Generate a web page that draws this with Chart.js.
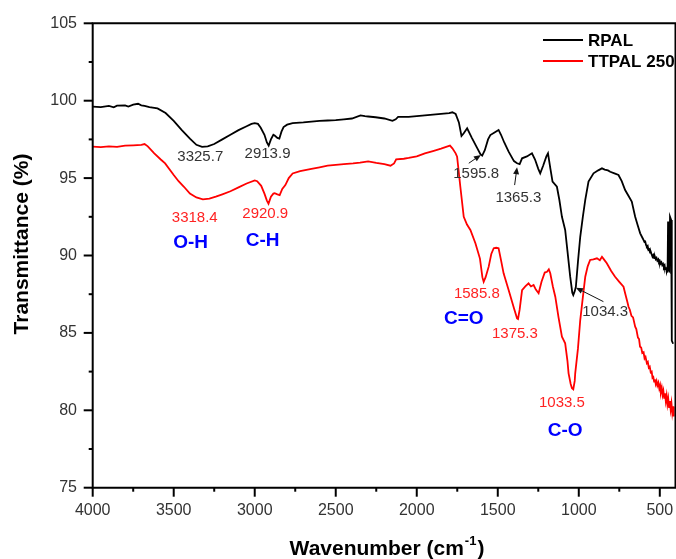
<!DOCTYPE html>
<html>
<head>
<meta charset="utf-8">
<script src="https://cdn.jsdelivr.net/npm/chart.js@4"></script>
<style>
  html, body { margin: 0; padding: 0; background: #fff; }
  #wrap { width: 676px; height: 559px; position: relative; }
</style>
</head>
<body>
<div id="wrap"><canvas id="ftirChart" width="676" height="559"></canvas></div>
<script>
// FTIR spectra: wavenumber (cm-1) and transmittance (%)
const rpalWave = [
  4000, 3950, 3900, 3870, 3850, 3800, 3780, 3750, 3720, 3700, 3680, 3650, 3600, 3550, 3500, 3450, 3400, 3360, 3325, 3290,
  3250, 3200, 3150, 3100, 3050, 3020, 3000, 2980, 2963, 2940, 2925, 2914, 2900, 2885, 2877, 2860, 2848, 2835, 2822, 2800,
  2766, 2700, 2650, 2600, 2550, 2500, 2450, 2400, 2347, 2320, 2300, 2254, 2200, 2150, 2130, 2115, 2050, 2000, 1950, 1900,
  1850, 1800, 1780, 1760, 1740, 1724, 1710, 1689, 1660, 1630, 1607, 1596, 1580, 1560, 1546, 1520, 1495, 1480, 1460, 1433,
  1400, 1381, 1365, 1350, 1320, 1289, 1270, 1250, 1238, 1220, 1200, 1190, 1175, 1162, 1135, 1120, 1104, 1084, 1070, 1053,
  1040, 1034, 1025, 1018, 1005, 991, 975, 960, 940, 909, 880, 857, 840, 820, 806, 780, 755, 735, 714, 690,
  673, 652, 635, 621, 605, 600, 595, 590, 585, 580, 575, 570, 565, 560, 555, 549, 545, 540, 535, 530,
  525, 520, 515, 509, 505, 500, 495, 490, 485, 480, 475, 470, 467, 462, 458, 455, 452, 449, 446, 440,
  437, 430, 426, 418
];
const rpalT = [
  99.62, 99.58, 99.66, 99.57, 99.68, 99.7, 99.62, 99.74, 99.8, 99.7, 99.66, 99.58, 99.5, 99.2, 98.7, 98.1, 97.55, 97.15, 97.02, 97.05,
  97.2, 97.5, 97.8, 98.1, 98.35, 98.5, 98.55, 98.5, 98.25, 97.8, 97.3, 97.1, 97.5, 97.8, 97.75, 97.6, 97.55, 98.0, 98.3, 98.45,
  98.55, 98.6, 98.65, 98.7, 98.72, 98.75, 98.8, 98.85, 99.05, 99.0, 98.98, 98.93, 98.85, 98.7, 98.8, 98.95, 98.95, 99.0, 99.05, 99.1,
  99.15, 99.2, 99.25, 99.15, 98.6, 97.72, 97.9, 98.22, 97.6, 97.0, 96.55, 96.45, 96.8, 97.5, 97.78, 97.95, 98.11, 97.8, 97.3, 96.71,
  96.1, 95.96, 95.9, 96.28, 96.4, 96.6, 96.2, 95.6, 95.31, 95.8, 96.4, 96.6, 95.6, 94.77, 94.44, 93.6, 92.5, 91.65, 90.3, 88.63,
  87.6, 87.45, 87.7, 87.98, 89.6, 91.21, 92.5, 93.59, 94.77, 95.31, 95.5, 95.63, 95.55, 95.5, 95.41, 95.3, 95.2, 94.8, 94.23, 93.8,
  93.48, 92.5, 91.9, 91.43, 91.1, 91.0, 90.88, 90.9, 90.68, 90.57, 90.62, 90.36, 90.4, 90.18, 90.22, 90.03, 89.92, 90.02, 89.84, 89.92,
  89.76, 89.84, 89.66, 89.75, 89.58, 89.65, 89.48, 89.56, 89.38, 89.46, 89.25, 89.35, 89.12, 89.24, 88.98, 89.14, 88.9, 92.2, 89.1, 89.0,
  92.5, 92.3, 84.5, 84.3
];

const ttpalWave = [
  4000, 3950, 3900, 3850, 3800, 3750, 3700, 3680, 3660, 3620, 3580, 3553, 3500, 3470, 3437, 3400, 3360, 3320, 3280, 3240,
  3200, 3150, 3100, 3050, 3000, 2985, 2960, 2940, 2925, 2915, 2900, 2885, 2877, 2860, 2846, 2830, 2811, 2790, 2766, 2720,
  2650, 2600, 2550, 2500, 2450, 2393, 2350, 2300, 2250, 2200, 2162, 2140, 2127, 2080, 2050, 2000, 1950, 1900, 1850, 1814,
  1795, 1780, 1760, 1751, 1731, 1710, 1690, 1669, 1638, 1610, 1595, 1587, 1575, 1556, 1540, 1525, 1510, 1495, 1480, 1464,
  1433, 1400, 1381, 1375, 1365, 1350, 1330, 1310, 1295, 1279, 1265, 1248, 1230, 1210, 1196, 1185, 1176, 1160, 1145, 1125,
  1104, 1084, 1070, 1063, 1050, 1042, 1034, 1025, 1022, 1005, 991, 975, 960, 945, 930, 910, 888, 870, 857, 845,
  827, 800, 776, 750, 724, 710, 700, 693, 685, 675, 665, 652, 645, 635, 628, 622, 615, 608, 600, 594,
  588, 580, 574, 568, 562, 556, 550, 545, 540, 535, 530, 525, 520, 515, 509, 503, 498, 493, 488, 483,
  478, 473, 468, 463, 458, 453, 448, 443, 438, 433, 428, 423, 418, 414
];
const ttpalT = [
  97.03, 97.0, 97.05, 97.02, 97.1, 97.12, 97.15, 97.2, 97.05, 96.6, 96.2, 95.95, 95.2, 94.8, 94.44, 94.0, 93.75, 93.63, 93.68, 93.8,
  93.95, 94.15, 94.4, 94.65, 94.85, 94.8, 94.5, 94.0, 93.55, 93.35, 93.8, 94.0, 94.02, 93.95, 93.9, 94.3, 94.55, 95.0, 95.3, 95.45,
  95.6, 95.7, 95.8, 95.85, 95.9, 95.95, 96.0, 96.08, 95.98, 95.9, 95.8, 95.95, 96.21, 96.25, 96.3, 96.4, 96.6, 96.75, 96.9, 97.03,
  97.1, 96.92, 96.6, 96.38, 94.44, 92.5, 92.0, 91.65, 90.79, 89.8, 88.6, 88.3, 88.6, 89.28, 90.1, 90.47, 90.5, 90.47, 89.7, 88.85,
  87.77, 86.6, 85.94, 85.9, 86.5, 87.77, 88.0, 88.2, 88.0, 88.09, 87.8, 87.56, 88.3, 88.9, 88.95, 89.1, 88.85, 88.0, 87.34, 86.0,
  84.75, 84.33, 83.2, 82.39, 81.7, 81.42, 81.35, 81.9, 82.39, 84.0, 85.83, 87.3, 88.63, 89.3, 89.71, 89.75, 89.82, 89.7, 89.92, 89.75,
  89.5, 89.0, 88.63, 88.3, 87.98, 87.4, 87.0, 86.69, 86.5, 86.1, 86.0, 85.4, 85.25, 84.7, 84.6, 84.11, 84.05, 83.7, 83.75, 83.35,
  83.45, 83.04, 83.12, 82.75, 82.82, 82.45, 82.5, 82.1, 82.15, 81.85, 82.0, 81.7, 81.88, 81.6, 81.78, 81.4, 81.62, 81.2, 81.45, 81.0,
  81.25, 80.8, 81.1, 80.6, 80.95, 80.4, 80.75, 80.2, 80.6, 80.05, 80.45, 79.85, 80.25, 79.6
];

const xTicks = [4000, 3500, 3000, 2500, 2000, 1500, 1000, 500];
const yTicks = [75, 80, 85, 90, 95, 100, 105];

// peak labels: [text, wavenumber, transmittance]
const rpalPeaks = [
  ["3325.7", 3336, 96.38],
  ["2913.9", 2921, 96.56],
  ["1595.8", 1633, 95.27],
  ["1365.3", 1373, 93.75],
  ["1034.3", 837, 86.38]
];
const ttpalPeaks = [
  ["3318.4", 3370, 92.45],
  ["2920.9", 2935, 92.7],
  ["1585.8", 1629, 87.51],
  ["1375.3", 1394, 84.97],
  ["1033.5", 1104, 80.5]
];
const groupLabels = [
  ["O-H", 3396, 90.8],
  ["C-H", 2951, 90.94],
  ["C=O", 1710, 85.93],
  ["C-O", 1084, 78.66]
];
// arrows from a label to its band: [fromWave, fromT, toWave, toT]
const peakArrows = [
  [1679, 95.96, 1604, 96.5],
  [1396, 94.55, 1381, 95.7],
  [848, 87.02, 1018, 87.92]
];

const FONT = "'Liberation Sans', Arial, sans-serif";

function toPoints(xs, ys) {
  return xs.map((x, i) => ({ x: x, y: ys[i] }));
}

function drawArrow(ctx, x1, y1, x2, y2) {
  const ang = Math.atan2(y2 - y1, x2 - x1);
  const len = 7, half = 3;
  ctx.beginPath();
  ctx.moveTo(x1, y1);
  ctx.lineTo(x2 - Math.cos(ang) * len * 0.8, y2 - Math.sin(ang) * len * 0.8);
  ctx.stroke();
  ctx.beginPath();
  ctx.moveTo(x2, y2);
  ctx.lineTo(x2 - Math.cos(ang) * len - Math.sin(ang) * half, y2 - Math.sin(ang) * len + Math.cos(ang) * half);
  ctx.lineTo(x2 - Math.cos(ang) * len + Math.sin(ang) * half, y2 - Math.sin(ang) * len - Math.cos(ang) * half);
  ctx.closePath();
  ctx.fill();
}

// axes frame, ticks, titles, legend and peak annotations
const ftirDecor = {
  id: "ftirDecor",
  afterDatasetsDraw(chart) {
    const ctx = chart.ctx;
    const area = chart.chartArea;
    const xs = chart.scales.x, ys = chart.scales.y;
    ctx.save();

    // frame
    ctx.strokeStyle = "#000";
    ctx.lineWidth = 2;
    ctx.beginPath();
    ctx.moveTo(area.left, area.top);
    ctx.lineTo(area.right - 0.5, area.top);
    ctx.lineTo(area.right - 0.5, area.bottom);
    ctx.lineTo(area.left, area.bottom);
    ctx.closePath();
    ctx.stroke();

    // x ticks (major every 500, minor every 250)
    for (let v = 4000; v >= 400; v -= 250) {
      const px = xs.getPixelForValue(v);
      const major = v % 500 === 0;
      ctx.beginPath();
      ctx.moveTo(px, area.bottom);
      ctx.lineTo(px, area.bottom + (major ? 9 : 4));
      ctx.stroke();
    }
    // y ticks (major every 5, minor every 2.5)
    for (let v = 75; v <= 105; v += 2.5) {
      const py = ys.getPixelForValue(v);
      const major = v % 5 === 0;
      ctx.beginPath();
      ctx.moveTo(area.left, py);
      ctx.lineTo(area.left - (major ? 9 : 4), py);
      ctx.stroke();
    }

    // tick labels
    ctx.fillStyle = "#333";
    ctx.font = "16px " + FONT;
    ctx.textAlign = "center";
    ctx.textBaseline = "middle";
    xTicks.forEach(v => ctx.fillText(String(v), xs.getPixelForValue(v), 511));
    ctx.textAlign = "right";
    yTicks.forEach(v => ctx.fillText(String(v), 77, ys.getPixelForValue(v)));

    // axis titles
    ctx.fillStyle = "#000";
    ctx.font = "bold 21px " + FONT;
    ctx.save();
    ctx.translate(22, 244);
    ctx.rotate(-Math.PI / 2);
    ctx.textAlign = "center";
    ctx.fillText("Transmittance (%)", 0, 0);
    ctx.restore();

    const t1 = "Wavenumber (cm", sup = "-1", t2 = ")";
    ctx.font = "bold 21px " + FONT;
    const w1 = ctx.measureText(t1).width, w3 = ctx.measureText(t2).width;
    ctx.font = "bold 13px " + FONT;
    const w2 = ctx.measureText(sup).width;
    const sx = 386 - (w1 + w2 + w3) / 2;
    ctx.textAlign = "left";
    ctx.font = "bold 21px " + FONT;
    ctx.fillText(t1, sx, 549);
    ctx.font = "bold 13px " + FONT;
    ctx.fillText(sup, sx + w1 + 1, 541);
    ctx.font = "bold 21px " + FONT;
    ctx.fillText(t2, sx + w1 + w2 + 2, 549);

    // legend
    const legend = [["RPAL", "#000", 40], ["TTPAL 250", "#ff0000", 61]];
    ctx.lineWidth = 2;
    ctx.font = "bold 17px " + FONT;
    legend.forEach(([name, col, y]) => {
      ctx.strokeStyle = col;
      ctx.beginPath();
      ctx.moveTo(543, y);
      ctx.lineTo(583, y);
      ctx.stroke();
      ctx.fillStyle = "#000";
      ctx.fillText(name, 588, y + 1);
    });

    // peak labels
    ctx.textAlign = "center";
    ctx.font = "15px " + FONT;
    ctx.fillStyle = "#333";
    rpalPeaks.forEach(([t, w, v]) => ctx.fillText(t, xs.getPixelForValue(w), ys.getPixelForValue(v)));
    ctx.fillStyle = "#f22";
    ttpalPeaks.forEach(([t, w, v]) => ctx.fillText(t, xs.getPixelForValue(w), ys.getPixelForValue(v)));
    ctx.font = "bold 19px " + FONT;
    ctx.fillStyle = "#0000ff";
    groupLabels.forEach(([t, w, v]) => ctx.fillText(t, xs.getPixelForValue(w), ys.getPixelForValue(v)));

    // arrows
    ctx.strokeStyle = "#111";
    ctx.fillStyle = "#111";
    ctx.lineWidth = 1;
    peakArrows.forEach(([w1a, v1, w2a, v2]) => {
      drawArrow(ctx, xs.getPixelForValue(w1a), ys.getPixelForValue(v1), xs.getPixelForValue(w2a), ys.getPixelForValue(v2));
    });

    ctx.restore();
  }
};

new Chart(document.getElementById("ftirChart"), {
  type: "line",
  data: {
    datasets: [
      {
        label: "RPAL",
        data: toPoints(rpalWave, rpalT),
        borderColor: "#000",
        borderWidth: 1.8,
        pointRadius: 0,
        tension: 0,
        fill: false
      },
      {
        label: "TTPAL 250",
        data: toPoints(ttpalWave, ttpalT),
        borderColor: "#ff0000",
        borderWidth: 1.8,
        pointRadius: 0,
        tension: 0,
        fill: false
      }
    ]
  },
  options: {
    responsive: false,
    animation: false,
    layout: { padding: { left: 92.7, top: 23.3, right: 0, bottom: 71.3 } },
    scales: {
      x: { type: "linear", reverse: true, min: 400, max: 4000, display: false },
      y: { min: 75, max: 105, display: false }
    },
    plugins: {
      legend: { display: false },
      tooltip: { enabled: false }
    }
  },
  plugins: [ftirDecor]
});
</script>
</body>
</html>
